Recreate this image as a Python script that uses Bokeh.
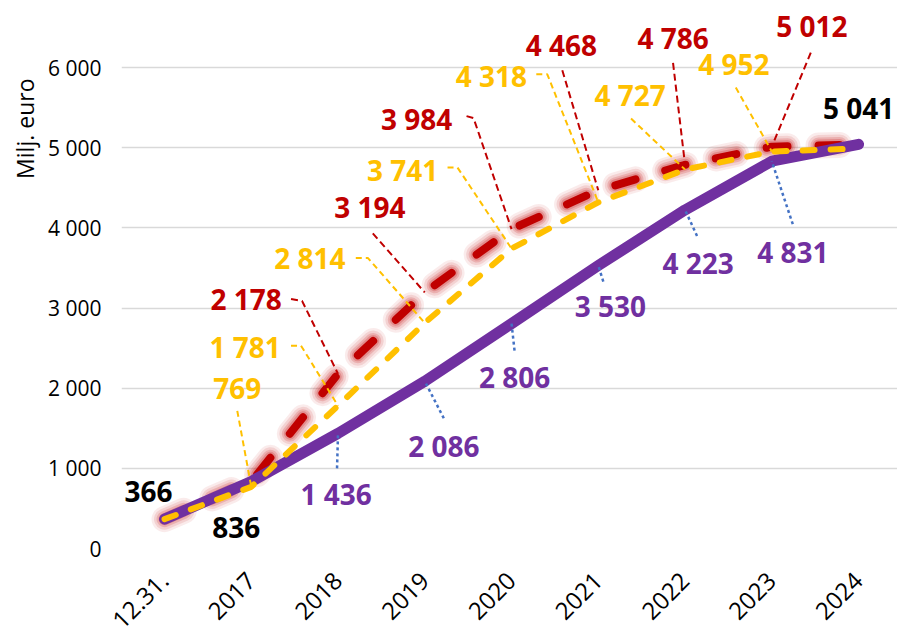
from bokeh.plotting import figure
from bokeh.models import Range1d, FixedTicker, Title
from bokeh.embed import file_html
from bokeh.resources import INLINE
from bokeh.core.properties import value

# ---------------- data ----------------
categories = ["12.31.", "2017", "2018", "2019", "2020", "2021", "2022", "2023", "2024"]
actual = [366, 836, 1436, 2086, 2806, 3530, 4223, 4831, 5041]          # purple, solid
plan_yellow = [366, 769, 1781, 2814, 3741, 4318, 4727, 4952, 4990]     # yellow, dashed
plan_red = [366, 836, 2178, 3194, 3984, 4468, 4786, 5012, 5041]        # red, dashed with glow
y_ticks = [0, 1000, 2000, 3000, 4000, 5000, 6000]
y_tick_labels = ["0", "1 000", "2 000", "3 000", "4 000", "5 000", "6 000"]

# ---------------- layout / style ----------------
FONT = "Open Sans"
PURPLE, YELLOW, RED, BLUE = "#7030a0", "#ffc000", "#c00000", "#4472c4"
FRAME_W, FRAME_H = 776, 540
X0, X1 = -0.496, 8.449
Y0, Y1 = 0, 6736
PXX = FRAME_W / (X1 - X0)
PXY = FRAME_H / (Y1 - Y0)

xs_idx = list(range(len(categories)))


def fmt(v):
    return f"{v:,}".replace(",", " ")


p = figure(frame_width=FRAME_W, frame_height=FRAME_H, output_backend="svg",
           toolbar_location=None, x_range=Range1d(X0, X1), y_range=Range1d(Y0, Y1),
           min_border_left=121, min_border_bottom=60, min_border_top=8, min_border_right=0)
p.outline_line_color = None
p.background_fill_color = "white"
p.border_fill_color = "white"

p.xgrid.grid_line_color = None
p.ygrid.grid_line_color = "#d9d9d9"
p.ygrid.grid_line_width = 1.5
p.yaxis.ticker = FixedTicker(ticks=y_ticks)
p.yaxis.major_label_overrides = {t: l for t, l in zip(y_ticks, y_tick_labels)}
p.xaxis.ticker = FixedTicker(ticks=xs_idx)
p.xaxis.major_label_overrides = {i: c for i, c in zip(xs_idx, categories)}
p.xaxis.major_label_orientation = 0.785398
for ax in (p.xaxis, p.yaxis):
    ax.axis_line_color = None
    ax.major_tick_line_color = None
    ax.minor_tick_line_color = None
    ax.major_tick_out = 0
    ax.major_tick_in = 0
    ax.major_label_text_font = FONT
    ax.major_label_text_font_size = "21px"
    ax.major_label_text_color = "black"
p.xaxis.major_label_text_font_size = "24px"
p.yaxis.major_label_standoff = 20
p.xaxis.major_label_standoff = 28

p.add_layout(Title(text="Milj. euro", align="right", offset=70, text_font=FONT,
                   text_font_size="23px", text_font_style="normal", text_color="black",
                   standoff=10), "left")

# ---------------- series ----------------
for w, a in ((26, 0.08), (21, 0.11), (16, 0.16), (12, 0.2)):
    p.line(xs_idx, plan_red, line_color=RED, line_width=w, line_alpha=a,
           line_dash="21 31", line_cap="round", line_join="round")
p.line(xs_idx, plan_red, line_color=RED, line_width=8, line_dash="21 31",
       line_cap="round", line_join="round")
p.line(xs_idx, actual, line_color=PURPLE, line_width=11, line_cap="round", line_join="round")
p.line(xs_idx, plan_yellow, line_color=YELLOW, line_width=6, line_dash="12 16",
       line_cap="round", line_join="round")

# ---------------- data labels (pixel offsets from the point, y up) ----------------
lab_black = {"series": actual, "idx": [0, 1, 8],
             "off": [(-16, 28), (-15, -46), (0, 36)], "lead": [None, None, None]}
lab_yellow = {"series": plan_yellow, "idx": [1, 2, 3, 4, 5, 6, 7],
              "off": [(-14, 98), (-93, 59), (-115, 65), (-109, 79), (-107, 126), (-55, 75), (-38, 88)],
              "lead": [[(-14, 76)], [(-47, 60), (-37, 60)], [(-69, 65), (-57, 65)],
                       [(-64, 81), (-54, 81)], [(-62, 128), (-51, 128)], [(-54, 51)], [(-36, 64)]]}
lab_red = {"series": plan_red, "idx": [2, 3, 4, 5, 6, 7],
           "off": [(-92, 75), (-55, 85), (-95, 110), (-37, 145), (-12, 127), (40, 121)],
           "lead": [[(-47, 75), (-36, 73)], [(-52, 59)], [(-45, 113), (-38, 111)],
                    [(-36, 120)], [(-12, 102)], [(39, 94)]]}
lab_purple = {"series": actual, "idx": [2, 3, 4, 5, 6, 7],
              "off": [(-2, -61), (19, -65), (3, -53), (12, -40), (13, -53), (21, -91)],
              "lead": [[(-1, -35)], [(19, -37)], [(3, -27)], [(5, -16)], [(12, -26)], [(21, -63)]]}


def draw_labels(spec, color, lead_color, lead_dash, lead_width):
    s = spec["series"]
    tx, ty, tt = [], [], []
    lx, ly = [], []
    for i, (ox, oy), lead in zip(spec["idx"], spec["off"], spec["lead"]):
        tx.append(i + ox / PXX)
        ty.append(s[i] + oy / PXY)
        tt.append(fmt(s[i]))
        if lead:
            lx.append([i + a / PXX for a, b in lead] + [i])
            ly.append([s[i] + b / PXY for a, b in lead] + [s[i]])
    if lx:
        p.multi_line(lx, ly, line_color=lead_color, line_dash=lead_dash, line_width=lead_width)
    p.text(tx, ty, text=tt, text_align="center", text_baseline="middle",
           text_font=value(FONT), text_font_style="bold", text_font_size="28px",
           text_color=color)


draw_labels(lab_yellow, YELLOW, YELLOW, "6 4", 2)
draw_labels(lab_red, RED, RED, "7 4", 2)
draw_labels(lab_purple, PURPLE, BLUE, "3 3", 2.5)
draw_labels(lab_black, "black", None, "solid", 1)

open("out.html", "w").write(file_html(p, INLINE))
